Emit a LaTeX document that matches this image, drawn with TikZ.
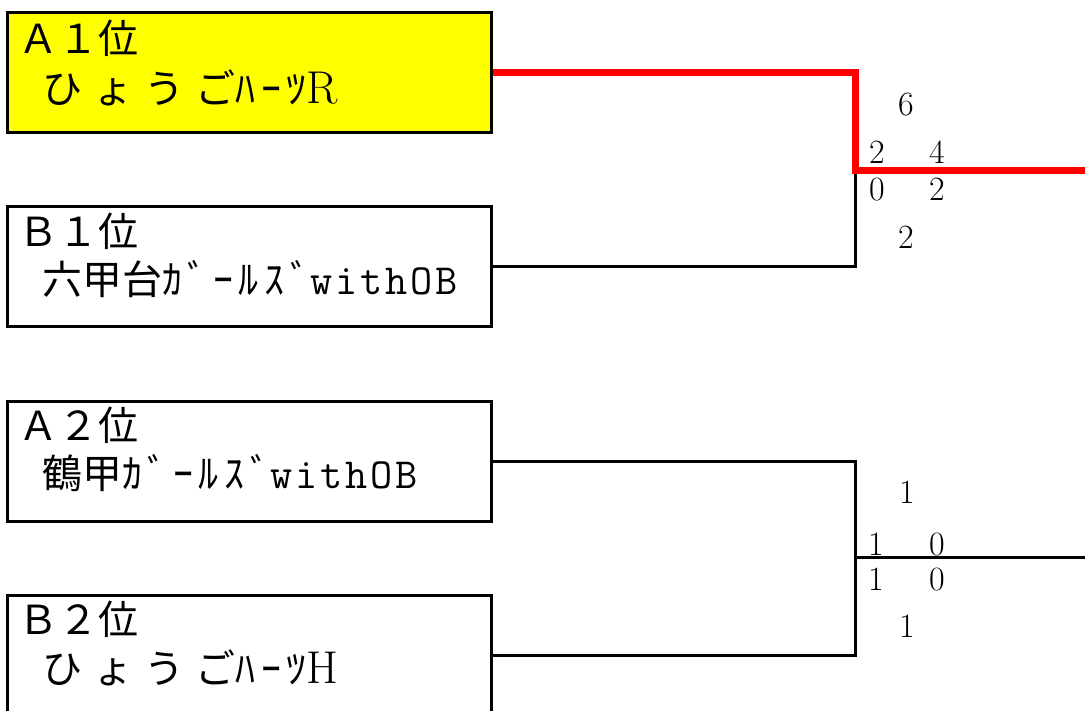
\documentclass[tikz,border=0pt]{standalone}
\usepackage{fontspec}
\newfontfamily\jp{Noto Sans CJK JP}
\newfontfamily\jpwide[LetterSpace=28]{Noto Sans CJK JP}
\newfontfamily\jphalf[LetterSpace=14]{Noto Sans CJK JP}
\newfontfamily\monowide[LetterSpace=7]{Latin Modern Mono}
\definecolor{winyellow}{RGB}{255,255,0}
\definecolor{winred}{RGB}{255,0,0}
\begin{document}
\begin{tikzpicture}[x=1pt,y=-1pt,
  teambox/.style={draw=black,line width=3pt,minimum width=484pt,minimum height=120pt,inner sep=0pt},
  lbl/.style={anchor=base west,inner sep=0pt,font=\jp\fontsize{40}{42}\selectfont},
  score/.style={anchor=base,inner sep=0pt,font=\fontsize{34}{36}\selectfont},
  wire/.style={draw=black,line width=3pt},
  winwire/.style={draw=winred,line width=7pt}]
\useasboundingbox (0,0) rectangle (1085,710);
\clip (0,0) rectangle (1085,710);
% boxes
\node[teambox,fill=winyellow] (a1) at (249,72) {};
\node[teambox] (b1) at (249,266) {};
\node[teambox] (a2) at (249,461) {};
\node[teambox] (b2) at (249,655) {};
% labels
\node[lbl] (a1l1) at (18,53) {Ａ１位};
\node[lbl] (a1l2) at (42,103) {{\jpwide ひょうご}{\jphalf ﾊｰﾂ}{\rmfamily\fontsize{46}{48}\selectfont R}};
\node[lbl] (b1l1) at (18,246) {Ｂ１位};
\node[lbl] (b1l2) at (42,294) {六甲台{\jphalf ｶﾞｰﾙｽﾞ}{\monowide\fontsize{43}{45}\selectfont withOB}};
\node[lbl] (a2l1) at (18,440) {Ａ２位};
\node[lbl] (a2l2) at (42,488) {鶴甲{\jphalf ｶﾞｰﾙｽﾞ}{\monowide\fontsize{43}{45}\selectfont withOB}};
\node[lbl] (b2l1) at (18,634) {Ｂ２位};
\node[lbl] (b2l2) at (42,683) {{\jpwide ひょうご}{\jphalf ﾊｰﾂ}{\rmfamily\fontsize{46}{48}\selectfont H}};
% joints
\coordinate (j1) at (855,170);
\coordinate (e1) at (1085,170);
\coordinate (j2) at (855,557);
\coordinate (e2) at (1085,557);
% connectors
\draw[wire] (b1.east) -| (j1);
\draw[winwire] (a1.east) -| (j1) -- (e1);
\draw[wire] (a2.east) -| (j2);
\draw[wire] (b2.east) -| (j2);
\draw[wire] (j2) -- (e2);
% scores match 1
\node[score] (s1a) at (906,115) {6};
\node[score] (s1b) at (877,163) {2};
\node[score] (s1c) at (937,163) {4};
\node[score] (s1d) at (877,200) {0};
\node[score] (s1e) at (937,200) {2};
\node[score] (s1f) at (906,248) {2};
% scores match 2
\node[score] (s2a) at (907,503) {1};
\node[score] (s2b) at (876,555) {1};
\node[score] (s2c) at (937,555) {0};
\node[score] (s2d) at (876,590) {1};
\node[score] (s2e) at (937,590) {0};
\node[score] (s2f) at (907,637) {1};
\end{tikzpicture}
\end{document}
